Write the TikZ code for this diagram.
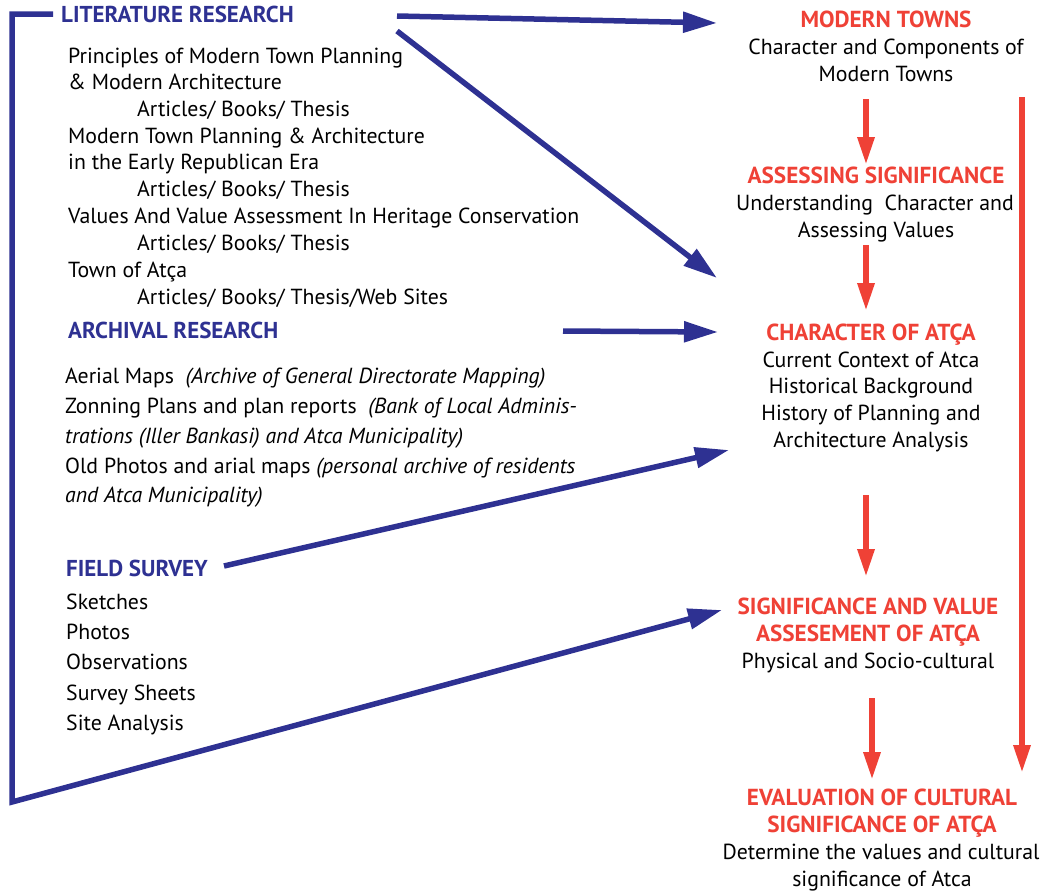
\documentclass[tikz,border=0pt]{standalone}
\usepackage{fontspec}
\setmainfont{PT Sans}
\usetikzlibrary{arrows.meta}
\definecolor{myblue}{HTML}{2E3192}
\definecolor{myred}{HTML}{EF4136}
\begin{document}
\begin{tikzpicture}[x=1pt,y=-1pt,
 bt/.style={inner sep=0pt, anchor=base west, font=\fontsize{21.8}{25}\selectfont},
 bh/.style={inner sep=0pt, anchor=base west, font=\bfseries\fontsize{23}{26}\selectfont, text=myblue},
 rh/.style={inner sep=0pt, anchor=base, font=\bfseries\fontsize{23.2}{26}\selectfont, text=myred},
 rt/.style={inner sep=0pt, anchor=base, font=\fontsize{21.8}{25}\selectfont},
 barrow/.style={draw=myblue, line width=5.5pt, -{Triangle[length=34pt,width=20pt]}},
 rarrow/.style={draw=myred, line width=6pt, -{Triangle[length=28pt,width=16pt]}},
]
\useasboundingbox (0,0) rectangle (1043,892);
% Literature research
\node[bh] (lit) at (61,22) {LITERATURE RESEARCH};
\node[bt] (l1) at (68,63) {Principles of Modern Town Planning};
\node[bt] (l2) at (68,89.5) {\& Modern Architecture};
\node[bt] (l3) at (137,116) {Articles/ Books/ Thesis};
\node[bt] (l4) at (68,143) {Modern Town Planning \& Architecture};
\node[bt] (l5) at (68,169.5) {in the Early Republican Era};
\node[bt] (l6) at (137,196.5) {Articles/ Books/ Thesis};
\node[bt] (l7) at (68,223) {Values And Value Assessment In Heritage Conservation};
\node[bt] (l8) at (137,250) {Articles/ Books/ Thesis};
\node[bt] (l9) at (68,277) {Town of Atça};
\node[bt] (l10) at (137,304) {Articles/ Books/ Thesis/Web Sites};
% Archival research
\node[bh] (arc) at (68,338) {ARCHIVAL RESEARCH};
\node[bt] (a1) at (65,383) {Aerial Maps\ \ \textit{(Archive of General Directorate Mapping)}};
\node[bt] (a2) at (65,413) {Zonning Plans and plan reports\ \ \textit{(Bank of Local Adminis-}};
\node[bt] (a3) at (65,443) {\textit{trations (Iller Bankasi) and Atca Municipality)}};
\node[bt] (a4) at (65,473) {Old Photos and arial maps \textit{(personal archive of residents}};
\node[bt] (a5) at (65,502) {\textit{and Atca Municipality)}};
% Field survey
\node[bh] (fld) at (66,576) {FIELD SURVEY};
\node[bt] (f1) at (66,609) {Sketches};
\node[bt] (f2) at (66,639) {Photos};
\node[bt] (f3) at (66,669) {Observations};
\node[bt] (f4) at (66,700) {Survey Sheets};
\node[bt] (f5) at (66,730) {Site Analysis};
% Right column
\node[rh] (mt) at (886,27) {MODERN TOWNS};
\node[rt] (mt1) at (886,54) {Character and Components of};
\node[rt] (mt2) at (886,81) {Modern Towns};
\node[rh] (as) at (876,183) {ASSESSING SIGNIFICANCE};
\node[rt] (as1) at (875,210) {Understanding\ \ Character and};
\node[rt] (as2) at (876,237) {Assessing Values};
\node[rh] (ch) at (871,340) {CHARACTER OF ATÇA};
\node[rt] (ch1) at (871,367) {Current Context of Atca};
\node[rt] (ch2) at (871,393.5) {Historical Background};
\node[rt] (ch3) at (871,420.5) {History of Planning and};
\node[rt] (ch4) at (871,447) {Architecture Analysis};
\node[rh] (sv) at (868,614) {SIGNIFICANCE AND VALUE};
\node[rh] (sv1) at (868,641.5) {ASSESEMENT OF ATÇA};
\node[rt] (sv2) at (868,668) {Physical and Socio-cultural};
\node[rh] (ev) at (882,805) {EVALUATION OF CULTURAL};
\node[rh] (ev1) at (882,832) {SIGNIFICANCE OF ATÇA};
\node[rt] (ev2) at (881,859) {Determine the values and cultural};
\node[rt] (ev3) at (882,886.5) {significance of Atca};
% blue connectors
\coordinate (b1s) at (397,16);  \coordinate (b1e) at (717,23);
\coordinate (b2s) at (397,31);  \coordinate (b2e) at (717,278);
\coordinate (b3s) at (563,331); \coordinate (b3e) at (718,332);
\coordinate (b4s) at (224,566); \coordinate (b4e) at (729,450);
\coordinate (brt) at (53,14); \coordinate (brc1) at (12,14); \coordinate (brc2) at (12,802);
\coordinate (b5e) at (722,610);
\draw[barrow] (b1s) -- (b1e);
\draw[barrow] (b2s) -- (b2e);
\draw[barrow] (b3s) -- (b3e);
\draw[barrow] (b4s) -- (b4e);
\draw[barrow, line join=miter] (brt) -- (brc1) -- (brc2) -- (b5e);
% red connectors
\coordinate (r1s) at (866,99);  \coordinate (r1e) at (866,165);
\coordinate (r2s) at (866,245); \coordinate (r2e) at (866,311);
\coordinate (r3s) at (866,495); \coordinate (r3e) at (866,577);
\coordinate (r4s) at (872,698); \coordinate (r4e) at (872,780);
\coordinate (r5s) at (1022,97); \coordinate (r5e) at (1022,773);
\draw[rarrow] (r1s) -- (r1e);
\draw[rarrow] (r2s) -- (r2e);
\draw[rarrow] (r3s) -- (r3e);
\draw[rarrow] (r4s) -- (r4e);
\draw[rarrow] (r5s) -- (r5e);
\end{tikzpicture}
\end{document}
